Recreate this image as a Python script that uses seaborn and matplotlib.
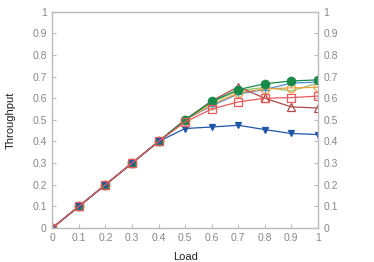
import numpy as np
import pandas as pd
import matplotlib
matplotlib.use("Agg")
import matplotlib.pyplot as plt
import seaborn as sns

load = [0, 0.1, 0.2, 0.3, 0.4, 0.5, 0.6, 0.7, 0.8, 0.9, 1.0]
base = [0, 0.1, 0.2, 0.3, 0.4]

s_blue_tri = base + [0.46, 0.467, 0.475, 0.455, 0.437, 0.432]
s_red_sq = base + [0.49, 0.55, 0.583, 0.60, 0.603, 0.61]
s_dred_tri = base + [0.50, 0.588, 0.653, 0.60, 0.56, 0.555]
s_orange = base + [0.50, 0.57, 0.625, 0.643, 0.648, 0.65]
s_lgreen = base + [0.50, 0.58, 0.635, 0.65, 0.634, 0.67]
s_blue_plus = base + [0.50, 0.565, 0.62, 0.64, 0.67, 0.675]
s_green = base + [0.50, 0.585, 0.64, 0.667, 0.68, 0.685]

# name, values, colour, marker, face colour, marker size
series = [
    ("lgreen", s_lgreen, "#8cc46a", "", "none", 0),
    ("blue_plus", s_blue_plus, "#4a8fd4", "+", "#4a8fd4", 6),
    ("orange", s_orange, "#f0a040", "o", "none", 6),
    ("dred_tri", s_dred_tri, "#b04a4a", "^", "none", 6),
    ("green", s_green, "#1a8a4a", "o", "#1a8a4a", 6),
    ("blue_tri", s_blue_tri, "#1f56a8", "v", "#1f56a8", 5),
    ("red_sq", s_red_sq, "#e85a5a", "s", "none", 6),
]

sns.set_style("white")
plt.rcParams['font.family'] = ['Liberation Sans', 'DejaVu Sans']

fig, ax = plt.subplots(figsize=(3.74, 2.62), dpi=100)
for name, vals, col, mk, fc, ms in series:
    df = pd.DataFrame({"Load": load, "Throughput": vals})
    sns.lineplot(data=df, x="Load", y="Throughput", ax=ax, color=col, lw=0.9,
                 marker=mk if mk else None, markersize=ms,
                 markerfacecolor=fc, markeredgecolor=col, markeredgewidth=0.9)

ax.set_xlim(0, 1)
ax.set_ylim(0, 1)
ticks = np.round(np.arange(0, 1.01, 0.1), 1)
labels = ["0"] + [f"{t:.1f}" for t in ticks[1:-1]] + ["1"]
ax.set_xticks(ticks)
ax.set_xticklabels(labels)
ax.set_yticks(ticks)
ax.set_yticklabels(labels)
ax.tick_params(axis="both", direction="in", length=3, color="#bbbbbb",
               labelcolor="#888888", labelsize=7.5, right=True, labelright=True,
               bottom=True, left=True, pad=4)
for sp in ax.spines.values():
    sp.set_color("#bbbbbb")
    sp.set_linewidth(1.0)
ax.set_xlabel("Load", fontsize=8, color="#222222", labelpad=6)
ax.set_ylabel("Throughput", fontsize=8, color="#222222", labelpad=12)

fig.subplots_adjust(left=0.14, right=0.85, top=0.955, bottom=0.13)
fig.savefig("out.png", dpi=100)
